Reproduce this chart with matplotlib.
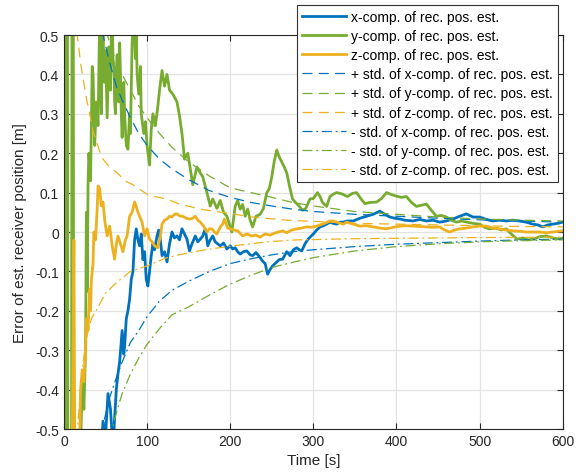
import matplotlib
matplotlib.use("Agg")
import matplotlib.pyplot as plt

plt.rcParams['font.family'] = ['Liberation Sans', 'DejaVu Sans']

# --- receiver position error components [m] over time [s] ---
t_x = [0, 40, 45, 47, 50, 53, 56, 59, 61, 63, 65, 67, 70, 72, 73, 75, 77, 79, 81, 83,
       85, 87, 89, 91, 93, 95, 97, 99, 101, 103, 105, 107, 109, 112, 114, 116, 118, 121,
       124, 127, 130, 133, 136, 139, 142, 145, 148, 151, 154, 158, 161, 164, 167, 170,
       173, 176, 179, 182, 185, 188, 192, 196, 200, 203, 206, 209, 212, 216, 220, 224,
       227, 231, 236, 239, 242, 245, 248, 251, 255, 259, 263, 268, 272, 276, 280, 283,
       286, 290, 293, 296, 300, 304, 308, 311, 316, 320, 324, 328, 332, 336, 341, 348,
       356, 364, 372, 380, 386, 392, 398, 404, 410, 420, 428, 436, 444, 452, 460, 468,
       476, 484, 492, 500, 508, 516, 524, 532, 540, 548, 556, 564, 570, 576, 582, 588,
       594, 600]
x_err = [-2.0, -1.0, -0.55, -0.48, -0.52, -0.41, -0.45, -0.55, -0.47, -0.40, -0.36, -0.33,
         -0.25, -0.31, -0.29, -0.22, -0.20, -0.17, -0.12, -0.10, -0.02, 0.008, -0.02,
         -0.035, -0.005, -0.07, -0.05, -0.12, -0.137, -0.10, -0.06, -0.03, -0.045, -0.01,
         0.005, -0.02, -0.06, -0.05, -0.076, -0.03, 0.0, -0.015, -0.01, -0.02, 0.008,
         -0.005, -0.018, -0.048, -0.03, -0.01, -0.025, -0.018, -0.01, 0.008, -0.035,
         -0.02, -0.01, -0.025, -0.03, -0.035, -0.028, -0.043, -0.035, -0.043, -0.04,
         -0.05, -0.056, -0.05, -0.048, -0.058, -0.06, -0.052, -0.065, -0.074, -0.08,
         -0.107, -0.095, -0.086, -0.078, -0.07, -0.069, -0.05, -0.06, -0.045, -0.04,
         -0.045, -0.048, -0.03, -0.02, -0.013, -0.005, 0.005, 0.013, 0.015, 0.02, 0.025,
         0.022, 0.02, 0.025, 0.025, 0.028, 0.028, 0.035, 0.04, 0.045, 0.053, 0.045,
         0.038, 0.035, 0.033, 0.03, 0.028, 0.032, 0.028, 0.03, 0.025, 0.028, 0.033,
         0.04, 0.046, 0.038, 0.038, 0.032, 0.028, 0.03, 0.028, 0.03, 0.028, 0.025, 0.02,
         0.018, 0.013, 0.018, 0.02, 0.022, 0.025]

t_y = [0, 1, 2, 3, 4, 5, 7, 9, 10, 11, 12, 14, 18, 20, 22, 24, 26, 27, 28, 29, 30, 32,
       34, 35, 37, 39, 41, 43, 45, 46, 47, 48, 49, 50, 52, 53, 54, 55, 56, 57, 58, 59,
       60, 61, 62, 63, 64, 65, 66, 67, 68, 69, 70, 72, 73, 75, 77, 79, 80, 82, 84, 86,
       87, 88, 90, 92, 93, 96, 98, 100, 103, 105, 107, 110, 113, 115,
       118, 121, 124, 127, 131, 136, 139, 142, 145, 149, 152, 155, 160, 164, 167, 172,
       176, 179, 184, 188, 192, 196, 202, 206, 209, 212, 215, 218, 221, 224, 227, 231,
       236, 240, 244, 247, 250, 253, 256, 259, 262, 265, 268, 272, 275, 278, 282, 287,
       291, 296, 300, 305, 308, 311, 316, 320, 324, 328, 334, 341, 347, 352, 357, 362,
       368, 376, 382, 388, 394, 400, 406, 412, 418, 424, 430, 436, 442, 448, 454, 460,
       466, 472, 478, 485, 492, 500, 506, 512, 520, 526, 532, 538, 545, 552, 558, 565,
       572, 580, 588, 596, 600]
y_err = [0.0, 1.2, -1.2, 0.9, 1.2, -1.2, -1.0, -0.9, 1.2, 1.2, -1.2, -1.0, -0.8, -0.55,
         -0.38, -0.45, -0.30, 0.05, -0.15, 0.12, 0.20, 0.13, 0.42, 0.40, 0.22, 0.33, 0.27,
         0.55, 0.30, 0.45, 0.55, 0.40, 0.38, 0.46, 0.29, 0.38, 0.47, 0.40, 0.36, 0.50,
         0.55, 0.44, 0.42, 0.33, 0.30, 0.40, 0.45, 0.38, 0.33, 0.48, 0.40, 0.30, 0.24,
         0.38, 0.30, 0.22, 0.21, 0.30, 0.25, 0.48, 0.55, 0.44, 0.50, 0.40, 0.35, 0.42,
         0.30, 0.25, 0.28,
         0.22, 0.17, 0.26, 0.30, 0.27, 0.32, 0.36, 0.41, 0.37, 0.40, 0.36, 0.35, 0.33,
         0.295, 0.25, 0.185, 0.20, 0.16, 0.12, 0.165, 0.15, 0.14, 0.10, 0.066, 0.084,
         0.06, 0.08, 0.05, 0.04, 0.0, 0.066, 0.08, 0.058, 0.07, 0.04, 0.058, 0.03, 0.013,
         0.04, 0.045, 0.06, 0.10, 0.11, 0.14, 0.18, 0.208, 0.19, 0.178, 0.165, 0.15, 0.11,
         0.084, 0.076, 0.068, 0.055, 0.06, 0.084, 0.085, 0.10, 0.09, 0.075, 0.065, 0.09,
         0.096, 0.10, 0.097, 0.09, 0.098, 0.10, 0.085, 0.072, 0.075, 0.076, 0.085, 0.10,
         0.095, 0.091, 0.088, 0.09, 0.075, 0.065, 0.068, 0.071, 0.055, 0.04, 0.042, 0.038,
         0.03, 0.025, 0.028, 0.025, 0.022, 0.02, 0.012, 0.008, 0.01, 0.005, 0.008, -0.005,
         -0.018, -0.015, -0.02, -0.018, -0.012, -0.01, -0.015, -0.018, -0.015]

t_z = [0, 8, 10, 11, 12, 13, 16, 19, 20, 22, 24, 26, 27, 29, 31, 32, 33, 35, 36, 38, 40,
       41, 43, 45, 47, 49, 52, 55, 58, 61, 63, 65, 68, 71, 74, 76, 79, 82, 85, 87, 89,
       91, 94, 97, 100, 103, 106, 109, 113, 116, 118, 121, 124, 127, 130, 133, 136, 140,
       143, 147, 151, 155, 158, 161, 164, 168, 172, 175, 178, 181, 184, 188, 191, 193,
       197, 200, 205, 209, 215, 220, 226, 231, 236, 242, 248, 253, 258, 263, 268, 274,
       280, 286, 292, 298, 304, 311, 316, 320, 324, 328, 336, 340, 348, 356, 364, 372,
       380, 388, 396, 404, 412, 420, 428, 436, 444, 452, 458, 464, 470, 476, 484, 492,
       500, 508, 516, 524, 532, 540, 548, 556, 564, 572, 580, 588, 596, 600]
z_err = [-2.0, -1.0, -0.55, -0.3, -0.02, -0.6, -1.0, -0.52, -0.40, -0.35, -0.38, -0.30,
         -0.22, -0.25, -0.145, -0.2, -0.12, -0.08, 0.0, -0.02, 0.06, 0.117, 0.11, 0.066,
         0.076, 0.03, -0.01, 0.015, -0.035, -0.069, -0.03, -0.01, -0.03, -0.05, -0.02,
         -0.01, 0.04, 0.05, 0.076, 0.065, 0.05, 0.04, 0.025, -0.01, 0.008, -0.018, -0.025,
         -0.035, -0.04, -0.01, 0.02, 0.03, 0.033, 0.04, 0.038, 0.045, 0.046, 0.04, 0.04,
         0.035, 0.033, 0.035, 0.04, 0.03, 0.025, 0.015, 0.0, 0.008, 0.008, 0.0, -0.005,
         0.013, 0.02, 0.033, 0.01, 0.008, 0.005, 0.003, -0.01, -0.005, -0.01, -0.008,
         -0.013, -0.005, -0.008, -0.003, 0.0, 0.003, -0.002, 0.005, 0.008, 0.01, 0.013,
         0.012, 0.015, 0.02, 0.024, 0.028, 0.028, 0.025, 0.02, 0.025, 0.02, 0.015, 0.016,
         0.013, 0.01, 0.008, 0.012, 0.015, 0.016, 0.015, 0.014, 0.013, 0.012, 0.013,
         0.005, 0.0, 0.005, 0.008, 0.01, 0.013, 0.015, 0.015, 0.01, 0.008, 0.005, 0.003,
         0.002, 0.0, 0.0, 0.0, -0.002, 0.0, 0.002, 0.003]

# --- standard deviation envelopes [m] ---
t_sx_p = [15, 20, 25, 30, 35, 40, 47, 55, 63, 70, 80, 90, 100, 115, 130, 150, 175, 200,
          225, 250, 275, 300, 350, 400, 450, 500, 550, 600]
sx_p = [1.6, 1.2, 0.95, 0.8, 0.68, 0.58, 0.5, 0.43, 0.37, 0.335, 0.29, 0.25, 0.22,
        0.185, 0.16, 0.133, 0.105, 0.088, 0.075, 0.066, 0.058, 0.052, 0.045, 0.04,
        0.035, 0.031, 0.028, 0.025]
t_sy_p = [15, 20, 25, 30, 35, 40, 47, 55, 63, 70, 80, 90, 100, 115, 130, 150, 175, 200,
          225, 250, 275, 300, 350, 400, 450, 500, 550, 600]
sy_p = [1.6, 1.25, 1.0, 0.85, 0.72, 0.62, 0.54, 0.48, 0.43, 0.40, 0.36, 0.32, 0.29,
        0.25, 0.215, 0.178, 0.142, 0.112, 0.1, 0.088, 0.075, 0.066, 0.052, 0.045, 0.038,
        0.033, 0.03, 0.028]
t_sz_p = [10, 13, 16, 20, 23, 27, 31, 35, 43, 47, 55, 64, 75, 83, 100, 107, 123, 139,
          164, 196, 227, 268, 300, 350, 400, 450, 500, 550, 600]
sz_p = [0.9, 0.65, 0.5, 0.43, 0.39, 0.34, 0.30, 0.255, 0.205, 0.185, 0.165, 0.15, 0.128,
        0.12, 0.096, 0.091, 0.084, 0.071, 0.058, 0.048, 0.038, 0.03, 0.027, 0.022, 0.02,
        0.018, 0.016, 0.014, 0.013]
t_sx_m = [15, 20, 25, 30, 35, 40, 47, 55, 63, 70, 80, 90, 100, 115, 130, 150, 175, 200,
          225, 250, 275, 300, 350, 400, 450, 500, 550, 600]
sx_m = [-1.6, -1.2, -0.95, -0.8, -0.68, -0.58, -0.49, -0.42, -0.37, -0.33, -0.28, -0.25,
        -0.215, -0.175, -0.148, -0.125, -0.1, -0.08, -0.068, -0.058, -0.05, -0.045,
        -0.037, -0.031, -0.027, -0.023, -0.02, -0.018]
t_sy_m = [15, 25, 35, 40, 47, 55, 59, 63, 70, 80, 90, 100, 115, 130, 150, 175, 200, 225,
          250, 275, 300, 350, 400, 450, 500, 550, 600]
sy_m = [-2.0, -1.2, -0.85, -0.72, -0.6, -0.52, -0.49, -0.46, -0.41, -0.36, -0.32, -0.285,
        -0.245, -0.21, -0.19, -0.16, -0.132, -0.11, -0.09, -0.077, -0.065, -0.048,
        -0.037, -0.03, -0.025, -0.022, -0.02]
t_sz_m = [10, 14, 17, 20, 23, 27, 33, 40, 50, 64, 80, 100, 124, 143, 170, 200, 244, 280,
          350, 400, 500, 600]
sz_m = [-1.0, -0.6, -0.48, -0.40, -0.33, -0.27, -0.22, -0.195, -0.155, -0.127, -0.10,
        -0.086, -0.065, -0.056, -0.045, -0.036, -0.025, -0.02, -0.017, -0.016, -0.014,
        -0.013]

labels = ['x-comp. of rec. pos. est.', 'y-comp. of rec. pos. est.', 'z-comp. of rec. pos. est.',
          '+ std. of x-comp. of rec. pos. est.', '+ std. of y-comp. of rec. pos. est.',
          '+ std. of z-comp. of rec. pos. est.', '- std. of x-comp. of rec. pos. est.',
          '- std. of y-comp. of rec. pos. est.', '- std. of z-comp. of rec. pos. est.']

c_blue, c_green, c_yellow = '#0072BD', '#77AC30', '#EDB120'

fig = plt.figure(figsize=(5.76, 4.77), dpi=100)
ax = fig.add_axes([0.111, 0.0985, 0.866, 0.826])

lw_main, lw_std = 2.0, 0.9
dash = (0, (8, 5))
dashdot = (0, (8, 3, 1.5, 3))
ax.plot(t_x, x_err, color=c_blue, lw=lw_main, label=labels[0])
ax.plot(t_y, y_err, color=c_green, lw=lw_main, label=labels[1])
ax.plot(t_z, z_err, color=c_yellow, lw=lw_main, label=labels[2])
ax.plot(t_sx_p, sx_p, color=c_blue, lw=lw_std, ls=dash, label=labels[3])
ax.plot(t_sy_p, sy_p, color=c_green, lw=lw_std, ls=dash, label=labels[4])
ax.plot(t_sz_p, sz_p, color=c_yellow, lw=lw_std, ls=dash, label=labels[5])
ax.plot(t_sx_m, sx_m, color=c_blue, lw=lw_std, ls=dashdot, label=labels[6])
ax.plot(t_sy_m, sy_m, color=c_green, lw=lw_std, ls=dashdot, label=labels[7])
ax.plot(t_sz_m, sz_m, color=c_yellow, lw=lw_std, ls=dashdot, label=labels[8])

ax.set_xlim(0, 600)
ax.set_ylim(-0.5, 0.5)
ax.set_xticks(range(0, 601, 100))
yt = [-0.5, -0.4, -0.3, -0.2, -0.1, 0, 0.1, 0.2, 0.3, 0.4, 0.5]
ax.set_yticks(yt)
ax.set_yticklabels(['-0.5', '-0.4', '-0.3', '-0.2', '-0.1', '0', '0.1', '0.2', '0.3', '0.4', '0.5'])
ax.grid(True, color='#e3e3e3', lw=0.9)
ax.set_axisbelow(True)
for s in ax.spines.values():
    s.set_color('#262626')
    s.set_linewidth(0.8)
ax.tick_params(direction='in', length=4, width=0.8, colors='#262626', labelsize=10,
               top=True, right=True)
ax.set_xlabel('Time [s]', fontsize=11, color='#262626', labelpad=4)
ax.set_ylabel('Error of est. receiver position [m]', fontsize=11, color='#262626', labelpad=6)

leg = ax.legend(loc='upper right', bbox_to_anchor=(0.99, 1.076), borderaxespad=0,
                fontsize=10, frameon=True, fancybox=False, framealpha=1,
                edgecolor='#333333', handlelength=3.2, handletextpad=0.35,
                labelspacing=0.37, borderpad=0.35)
leg.get_frame().set_linewidth(0.8)

fig.savefig('out.png', dpi=100)
